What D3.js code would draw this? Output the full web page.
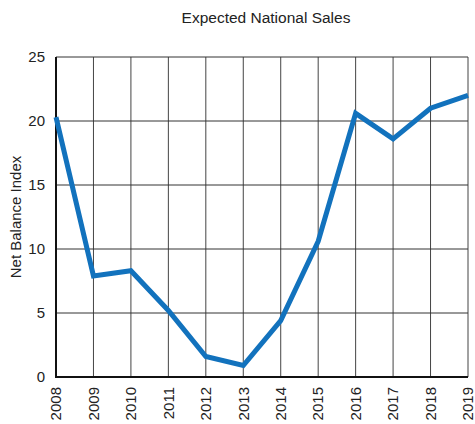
<!DOCTYPE html>
<html><head><meta charset="utf-8">
<script src="https://cdn.jsdelivr.net/npm/d3@7"></script>
<style>body{margin:0;background:#fff;} text{font-family:"Liberation Sans",Arial,sans-serif;}</style>
</head><body><svg id="c" width="475" height="424"></svg>
<script>
const years = [2008,2009,2010,2011,2012,2013,2014,2015,2016,2017,2018,2019];
const values = [20.3,7.9,8.3,5.2,1.6,0.9,4.4,10.6,20.6,18.6,21.0,22.0];
const yTicks = [0,5,10,15,20,25];
const title = "Expected National Sales";
const yLabel = "Net Balance Index";

const svg = d3.select("#c");
const m = {l:56, r:468, t:57, b:377};
const x = d3.scaleLinear().domain([2008,2019]).range([m.l, m.r]);
const y = d3.scaleLinear().domain([0,25]).range([m.b, m.t]);

// grid
svg.append("g").selectAll("line").data(years.slice(1)).join("line")
  .attr("x1",d=>x(d)).attr("x2",d=>x(d)).attr("y1",m.t).attr("y2",m.b)
  .attr("stroke","#444").attr("stroke-width",1);
svg.append("g").selectAll("line").data(yTicks.slice(1)).join("line")
  .attr("x1",m.l).attr("x2",m.r).attr("y1",d=>y(d)).attr("y2",d=>y(d))
  .attr("stroke","#333").attr("stroke-width",1);

// axes lines
svg.append("line").attr("x1",m.l).attr("x2",m.l).attr("y1",m.t).attr("y2",m.b+1).attr("stroke","#111").attr("stroke-width",2);
svg.append("line").attr("x1",m.l-1).attr("x2",m.r).attr("y1",m.b).attr("y2",m.b).attr("stroke","#111").attr("stroke-width",2);

// y tick labels
svg.append("g").selectAll("text").data(yTicks).join("text")
  .attr("x",m.l-11).attr("y",d=>y(d)).attr("dy","0.35em")
  .attr("text-anchor","end").attr("font-size",15).attr("fill","#222").text(d=>d);

// x tick labels
svg.append("g").selectAll("text").data(years).join("text")
  .attr("transform",d=>`translate(${x(d)},${m.b+10}) rotate(-90)`)
  .attr("dy","0.35em").attr("text-anchor","end").attr("font-size",15).attr("fill","#222").text(d=>d);

// title
svg.append("text").attr("x",266).attr("y",23).attr("text-anchor","middle")
  .attr("font-size",15.5).attr("fill","#222").text(title);
// y label
svg.append("text").attr("transform",`translate(21,${(m.t+m.b)/2}) rotate(-90)`)
  .attr("text-anchor","middle").attr("font-size",15).attr("fill","#222").text(yLabel);

// line
const line = d3.line().x((d,i)=>x(years[i])).y(d=>y(d));
svg.append("path").datum(values).attr("d",line).attr("fill","none")
  .attr("stroke","#1272BD").attr("stroke-width",5).attr("stroke-linejoin","miter");
</script></body></html>
